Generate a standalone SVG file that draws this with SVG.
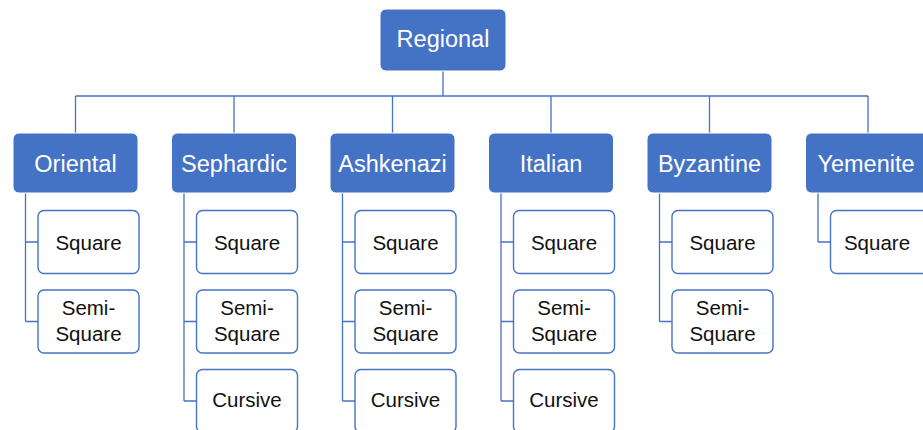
<svg xmlns="http://www.w3.org/2000/svg" width="923" height="430" viewBox="0 0 923 430">
<style>
.top{fill:#4472C4;stroke:#ffffff;stroke-width:1}
.tt{fill:#ffffff;font-family:"Liberation Sans",Arial,sans-serif;font-size:23.5px;text-anchor:middle}
.ch{fill:#ffffff;stroke:#4472C4;stroke-width:1.4}
.ct{fill:#111111;font-family:"Liberation Sans",Arial,sans-serif;font-size:20.5px;text-anchor:middle}
.cn{fill:none;stroke:#4472C4;stroke-width:1.3}
</style>
<rect width="923" height="430" fill="#ffffff"/>
<g id="connectors">
<path class="cn" d="M443 71V96M75.5 96H868M75.5 96V133M234 96V133M392.5 96V133M551 96V133M709.5 96V133M868 96V133"/>
<path class="cn" d="M25.5 193V321.5M25.5 242H38M25.5 321.5H38"/>
<path class="cn" d="M184 193V401M184 242H196.5M184 321.5H196.5M184 401H196.5"/>
<path class="cn" d="M342.5 193V401M342.5 242H355M342.5 321.5H355M342.5 401H355"/>
<path class="cn" d="M501 193V401M501 242H513.5M501 321.5H513.5M501 401H513.5"/>
<path class="cn" d="M659.5 193V321.5M659.5 242H672M659.5 321.5H672"/>
<path class="cn" d="M818 193V242M818 242H830.5"/>
</g>
<g id="regional"><rect class="top" x="380" y="9" width="126" height="62" rx="6"/><text class="tt" x="443" y="46.5">Regional</text></g>
<g id="oriental"><rect class="top" x="13" y="133" width="125" height="60" rx="6"/><text class="tt" x="75.5" y="171.5">Oriental</text></g>
<g id="sephardic"><rect class="top" x="171.5" y="133" width="125" height="60" rx="6"/><text class="tt" x="234" y="171.5">Sephardic</text></g>
<g id="ashkenazi"><rect class="top" x="330" y="133" width="125" height="60" rx="6"/><text class="tt" x="392.5" y="171.5">Ashkenazi</text></g>
<g id="italian"><rect class="top" x="488.5" y="133" width="125" height="60" rx="6"/><text class="tt" x="551" y="171.5">Italian</text></g>
<g id="byzantine"><rect class="top" x="647" y="133" width="125" height="60" rx="6"/><text class="tt" x="709.5" y="171.5">Byzantine</text></g>
<g id="yemenite"><rect class="top" x="805.5" y="133" width="125" height="60" rx="6"/><text class="tt" x="866" y="171.5">Yemenite</text></g>

<g id="oriental-square"><rect class="ch" x="38" y="210.5" width="101" height="63" rx="6"/><text class="ct" x="88.5" y="249.5">Square</text></g>
<g id="oriental-semi"><rect class="ch" x="38" y="290" width="101" height="63" rx="6"/><text class="ct" x="88.5" y="314.5">Semi-</text><text class="ct" x="88.5" y="340.5">Square</text></g>

<g id="sephardic-square"><rect class="ch" x="196.5" y="210.5" width="101" height="63" rx="6"/><text class="ct" x="247" y="249.5">Square</text></g>
<g id="sephardic-semi"><rect class="ch" x="196.5" y="290" width="101" height="63" rx="6"/><text class="ct" x="247" y="314.5">Semi-</text><text class="ct" x="247" y="340.5">Square</text></g>
<g id="sephardic-cursive"><rect class="ch" x="196.5" y="369.5" width="101" height="63" rx="6"/><text class="ct" x="247" y="407">Cursive</text></g>

<g id="ashkenazi-square"><rect class="ch" x="355" y="210.5" width="101" height="63" rx="6"/><text class="ct" x="405.5" y="249.5">Square</text></g>
<g id="ashkenazi-semi"><rect class="ch" x="355" y="290" width="101" height="63" rx="6"/><text class="ct" x="405.5" y="314.5">Semi-</text><text class="ct" x="405.5" y="340.5">Square</text></g>
<g id="ashkenazi-cursive"><rect class="ch" x="355" y="369.5" width="101" height="63" rx="6"/><text class="ct" x="405.5" y="407">Cursive</text></g>

<g id="italian-square"><rect class="ch" x="513.5" y="210.5" width="101" height="63" rx="6"/><text class="ct" x="564" y="249.5">Square</text></g>
<g id="italian-semi"><rect class="ch" x="513.5" y="290" width="101" height="63" rx="6"/><text class="ct" x="564" y="314.5">Semi-</text><text class="ct" x="564" y="340.5">Square</text></g>
<g id="italian-cursive"><rect class="ch" x="513.5" y="369.5" width="101" height="63" rx="6"/><text class="ct" x="564" y="407">Cursive</text></g>

<g id="byzantine-square"><rect class="ch" x="672" y="210.5" width="101" height="63" rx="6"/><text class="ct" x="722.5" y="249.5">Square</text></g>
<g id="byzantine-semi"><rect class="ch" x="672" y="290" width="101" height="63" rx="6"/><text class="ct" x="722.5" y="314.5">Semi-</text><text class="ct" x="722.5" y="340.5">Square</text></g>

<g id="yemenite-square"><rect class="ch" x="830.5" y="210.5" width="101" height="63" rx="6"/><text class="ct" x="877" y="249.5">Square</text></g>
</svg>
